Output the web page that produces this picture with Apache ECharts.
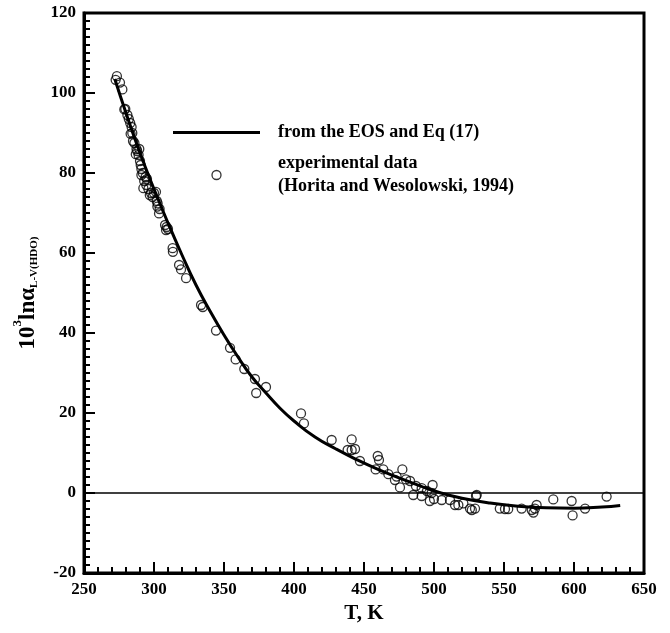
<!DOCTYPE html>
<html>
<head>
<meta charset="utf-8">
<script src="https://cdn.jsdelivr.net/npm/echarts@6.0.0/dist/echarts.min.js"></script>
<style>
  html, body { margin: 0; padding: 0; background: #fff; }
  #chart { width: 670px; height: 633px; }
</style>
</head>
<body>
<div id="chart"></div>
<script>
// model curve (from the EOS and Eq 17)
var curveT = [272, 280, 290, 300, 310, 320, 330, 340, 350, 360, 370, 380, 390, 400, 415, 430, 445, 460, 475, 490, 505, 520, 540, 560, 580, 600, 620, 633];
var curveY = [103.5, 95, 85, 76, 67.5, 59.5, 52, 45.5, 39.5, 34, 29, 25, 21.2, 18, 14, 11, 8.3, 5.9, 3.8, 1.8, 0, -1.3, -2.5, -3.3, -3.7, -3.8, -3.5, -3.1];

// experimental data (Horita and Wesolowski, 1994)
var expT = [273.5, 272.6, 275.7, 277.4, 278.8, 279.5, 281, 282, 283, 283.3, 284, 284.5, 285, 286, 287, 287.5, 288, 289, 289.5, 290,
  290.5, 291, 291, 292, 292.4, 293, 294, 294.5, 295, 296, 297, 297.9, 299, 300, 301.4, 302, 302.4, 302.6, 303.6, 304,
  307.9, 308.6, 309, 310, 313.3, 313.5, 317.9, 319.3, 322.9, 333.6, 334.8, 344.3, 354.3, 358.3, 364.5, 372.1, 373, 380,
  405, 407.1, 426.9, 441.2, 438.3, 441.2, 443.6, 447.1, 459.8, 460.7, 458.3, 463.8, 467.4, 477.4, 473.3, 472.1, 480, 482.9,
  475.7, 487.1, 491.2, 499, 485.2, 491.2, 498.3, 500, 495, 497, 530.5,
  505.5, 511.4, 515, 517.4, 521, 525.7, 527, 529.3, 530, 547, 550.7, 553, 562.6, 569.8, 571, 573.3, 572.1, 585.2, 598.3, 599, 607.9, 623.3];
var expY = [104.2, 103.3, 102.6, 100.9, 95.9, 96, 94.5, 93.5, 92.5, 89.8, 91.5, 90, 88, 87.5, 84.7, 86, 85.5, 84.5, 86, 83,
  82, 81, 79.5, 80, 76.2, 78, 79, 77, 78.5, 76, 74.5, 75, 74, 75, 75.3, 73, 71.6, 72.4, 69.9, 71,
  67, 65.75, 66.5, 66, 61.2, 60.3, 57, 55.9, 53.7, 47, 46.5, 40.6, 36.3, 33.4, 31, 28.5, 25, 26.5,
  19.9, 17.4, 13.25, 13.4, 10.75, 10.75, 11, 8, 9.25, 8.25, 5.9, 5.9, 4.7, 5.9, 4.1, 3.25, 3.4, 3,
  1.4, 1.75, 1.2, 2, -0.5, -0.75, 0, -1.5, 0.5, -2, -0.5,
  -1.75, -1.75, -3, -3, -2.6, -3.9, -4.25, -3.9, -0.75, -3.9, -4, -4, -3.9, -4.25, -4.9, -3, -3.9, -1.6, -2, -5.6, -3.9, -0.9];

var curveName = 'from the EOS and Eq (17)';
var expName = 'experimental data\n(Horita and Wesolowski, 1994)';

var curveData = curveT.map(function (t, i) { return [t, curveY[i]]; });
var expData = expT.map(function (t, i) { return [t, expY[i]]; });

var FONT = '"Liberation Serif", "Times New Roman", serif';

var chart = echarts.init(document.getElementById('chart'));
var option = {
  animation: false,
  backgroundColor: '#fff',
  grid: {
    left: 84, right: 26, top: 13, bottom: 60,
    show: true, borderColor: '#000', borderWidth: 3
  },
  legend: {
    orient: 'vertical',
    left: 168, top: 116,
    itemWidth: 87, itemHeight: 9, itemGap: 8,
    textStyle: {
      fontFamily: FONT, fontWeight: 'bold', fontSize: 18, color: '#000',
      lineHeight: 23, padding: [0, 0, 0, 13]
    },
    data: [
      { name: curveName, icon: 'path://M0,0L87,0L87,3L0,3Z', itemStyle: { color: '#000', borderWidth: 0 } },
      { name: expName, icon: 'circle', itemStyle: { color: 'rgba(255,255,255,0)', borderColor: '#000', borderWidth: 1.3 } }
    ]
  },
  xAxis: {
    type: 'value', min: 250, max: 650, interval: 50,
    name: 'T, K', nameLocation: 'middle', nameGap: 30,
    nameTextStyle: { fontFamily: FONT, fontWeight: 'bold', fontSize: 21, color: '#000' },
    axisLine: { onZero: false, lineStyle: { color: '#000', width: 3 } },
    axisTick: { inside: true, length: 11, lineStyle: { color: '#000', width: 2 } },
    minorTick: { show: true, splitNumber: 5, length: 6, lineStyle: { color: '#000', width: 2 } },
    axisLabel: { fontFamily: FONT, fontWeight: 'bold', fontSize: 17, color: '#000', margin: 8 },
    splitLine: { show: false }
  },
  yAxis: {
    type: 'value', min: -20, max: 120, interval: 20,
    name: '{b|10}{sup|3}{b|ln}{al|α}{sub|L-V(HDO)}',
    nameLocation: 'middle', nameGap: 42,
    nameTextStyle: {
      color: '#000',
      rich: {
        b: { fontFamily: FONT, fontWeight: 'bold', fontSize: 23, color: '#000', lineHeight: 28, verticalAlign: 'bottom' },
        sup: { fontFamily: FONT, fontWeight: 'bold', fontSize: 13, color: '#000', verticalAlign: 'top', lineHeight: 28 },
        al: { fontFamily: FONT, fontWeight: 'bold', fontSize: 23, color: '#000', lineHeight: 28, verticalAlign: 'bottom' },
        sub: { fontFamily: FONT, fontWeight: 'bold', fontSize: 11, color: '#000', verticalAlign: 'bottom', lineHeight: 20 }
      }
    },
    axisLine: { onZero: false, lineStyle: { color: '#000', width: 3 } },
    axisTick: { inside: true, length: 11, lineStyle: { color: '#000', width: 2 } },
    minorTick: { show: true, splitNumber: 10, length: 6, lineStyle: { color: '#000', width: 2 } },
    axisLabel: { fontFamily: FONT, fontWeight: 'bold', fontSize: 17, color: '#000', margin: 8 },
    splitLine: { show: false }
  },
  series: [
    {
      name: expName,
      type: 'scatter',
      symbol: 'circle',
      symbolSize: 9,
      itemStyle: { color: 'rgba(255,255,255,0)', borderColor: '#000', borderWidth: 1.3 },
      data: expData,
      markLine: {
        silent: true,
        symbol: 'none',
        label: { show: false },
        lineStyle: { color: '#000', width: 1.5, type: 'solid' },
        data: [{ yAxis: 0 }]
      },
      z: 2
    },
    {
      name: curveName,
      type: 'line',
      smooth: true,
      symbol: 'none',
      lineStyle: { color: '#000', width: 3 },
      itemStyle: { color: '#000' },
      data: curveData,
      z: 3
    }
  ]
};
chart.setOption(option);
</script>
</body>
</html>
